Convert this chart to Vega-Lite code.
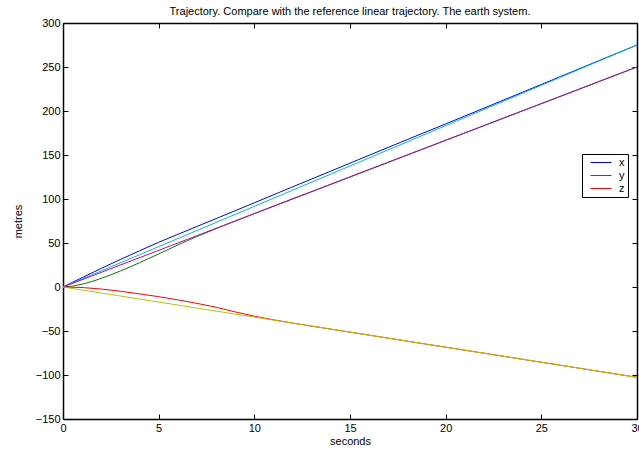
{
  "$schema": "https://vega.github.io/schema/vega-lite/v6.json",
  "width": 574,
  "height": 396,
  "autosize": {"type": "none"},
  "padding": {"left": 63, "top": 23, "right": 2, "bottom": 31},
  "title": {"text": "Trajectory. Compare with the reference linear trajectory. The earth system.", "fontSize": 11, "font": "Liberation Sans", "fontWeight": "normal", "offset": 0, "color": "black"},
  "datasets": {
    "traj": [
      {"t": 0, "v": 0, "s": "x", "kind": "main"},
      {"t": 1, "v": 10.67, "s": "x", "kind": "main"},
      {"t": 2, "v": 21.13, "s": "x", "kind": "main"},
      {"t": 3, "v": 31.3, "s": "x", "kind": "main"},
      {"t": 4, "v": 41.17, "s": "x", "kind": "main"},
      {"t": 5, "v": 50.83, "s": "x", "kind": "main"},
      {"t": 6, "v": 59.8, "s": "x", "kind": "main"},
      {"t": 7, "v": 68.77, "s": "x", "kind": "main"},
      {"t": 8, "v": 77.73, "s": "x", "kind": "main"},
      {"t": 9, "v": 86.7, "s": "x", "kind": "main"},
      {"t": 10, "v": 95.67, "s": "x", "kind": "main"},
      {"t": 12, "v": 113.8, "s": "x", "kind": "main"},
      {"t": 14, "v": 131.7, "s": "x", "kind": "main"},
      {"t": 16, "v": 149.7, "s": "x", "kind": "main"},
      {"t": 18, "v": 167.6, "s": "x", "kind": "main"},
      {"t": 20, "v": 185.3, "s": "x", "kind": "main"},
      {"t": 22, "v": 203.2, "s": "x", "kind": "main"},
      {"t": 24, "v": 221.2, "s": "x", "kind": "main"},
      {"t": 26, "v": 239.1, "s": "x", "kind": "main"},
      {"t": 28, "v": 257.1, "s": "x", "kind": "main"},
      {"t": 30, "v": 275, "s": "x", "kind": "main"},

      {"t": 0, "v": 0, "s": "y", "kind": "main"},
      {"t": 0.5, "v": 1.0, "s": "y", "kind": "main"},
      {"t": 1, "v": 3.2, "s": "y", "kind": "main"},
      {"t": 1.5, "v": 6.2, "s": "y", "kind": "main"},
      {"t": 2, "v": 9.8, "s": "y", "kind": "main"},
      {"t": 2.5, "v": 13.8, "s": "y", "kind": "main"},
      {"t": 3, "v": 18.2, "s": "y", "kind": "main"},
      {"t": 3.5, "v": 22.8, "s": "y", "kind": "main"},
      {"t": 4, "v": 27.6, "s": "y", "kind": "main"},
      {"t": 4.5, "v": 32.6, "s": "y", "kind": "main"},
      {"t": 5, "v": 37.6, "s": "y", "kind": "main"},
      {"t": 5.5, "v": 42.6, "s": "y", "kind": "main"},
      {"t": 6, "v": 47.8, "s": "y", "kind": "main"},
      {"t": 6.5, "v": 52.6, "s": "y", "kind": "main"},
      {"t": 7, "v": 57.4, "s": "y", "kind": "main"},
      {"t": 8, "v": 66.3, "s": "y", "kind": "main"},
      {"t": 9, "v": 75.0, "s": "y", "kind": "main"},
      {"t": 10, "v": 83.5, "s": "y", "kind": "main"},
      {"t": 12, "v": 100.2, "s": "y", "kind": "main"},
      {"t": 14, "v": 116.8, "s": "y", "kind": "main"},
      {"t": 16, "v": 133.5, "s": "y", "kind": "main"},
      {"t": 18, "v": 150.1, "s": "y", "kind": "main"},
      {"t": 20, "v": 166.8, "s": "y", "kind": "main"},
      {"t": 22, "v": 183.4, "s": "y", "kind": "main"},
      {"t": 24, "v": 200.1, "s": "y", "kind": "main"},
      {"t": 26, "v": 216.7, "s": "y", "kind": "main"},
      {"t": 28, "v": 233.4, "s": "y", "kind": "main"},
      {"t": 30, "v": 250, "s": "y", "kind": "main"},

      {"t": 0, "v": 0, "s": "z", "kind": "main"},
      {"t": 1, "v": -0.6, "s": "z", "kind": "main"},
      {"t": 2, "v": -2.3, "s": "z", "kind": "main"},
      {"t": 3, "v": -4.8, "s": "z", "kind": "main"},
      {"t": 4, "v": -7.8, "s": "z", "kind": "main"},
      {"t": 5, "v": -11.0, "s": "z", "kind": "main"},
      {"t": 6, "v": -14.6, "s": "z", "kind": "main"},
      {"t": 7, "v": -18.6, "s": "z", "kind": "main"},
      {"t": 8, "v": -23.0, "s": "z", "kind": "main"},
      {"t": 9, "v": -28.3, "s": "z", "kind": "main"},
      {"t": 10, "v": -33.2, "s": "z", "kind": "main"},
      {"t": 11, "v": -37.3, "s": "z", "kind": "main"},
      {"t": 12, "v": -41.0, "s": "z", "kind": "main"},
      {"t": 14, "v": -47.9, "s": "z", "kind": "main"},
      {"t": 16, "v": -54.7, "s": "z", "kind": "main"},
      {"t": 18, "v": -61.6, "s": "z", "kind": "main"},
      {"t": 20, "v": -68.4, "s": "z", "kind": "main"},
      {"t": 22, "v": -75.2, "s": "z", "kind": "main"},
      {"t": 24, "v": -82.1, "s": "z", "kind": "main"},
      {"t": 26, "v": -88.9, "s": "z", "kind": "main"},
      {"t": 28, "v": -95.8, "s": "z", "kind": "main"},
      {"t": 30, "v": -102.6, "s": "z", "kind": "main"},

      {"t": 0, "v": 0, "s": "xr", "kind": "ref"},
      {"t": 30, "v": 275, "s": "xr", "kind": "ref"},
      {"t": 0, "v": 0, "s": "yr", "kind": "ref"},
      {"t": 30, "v": 250, "s": "yr", "kind": "ref"},
      {"t": 0, "v": 0, "s": "zr", "kind": "ref"},
      {"t": 30, "v": -102.6, "s": "zr", "kind": "ref"}
    ]
  },
  "data": {"name": "traj"},
  "layer": [
    {
      "transform": [{"filter": "datum.kind === 'main'"}],
      "mark": {"type": "line", "strokeWidth": 1, "clip": true},
      "encoding": {
        "x": {"field": "t", "type": "quantitative", "scale": {"domain": [0, 30], "nice": false, "zero": false},
              "axis": {"orient": "bottom", "title": "seconds", "values": [0, 5, 10, 15, 20, 25, 30], "titlePadding": 2}},
        "y": {"field": "v", "type": "quantitative", "scale": {"domain": [-150, 300], "nice": false, "zero": false},
              "axis": {"orient": "left", "title": "metres", "values": [-150, -100, -50, 0, 50, 100, 150, 200, 250, 300], "titlePadding": 12}},
        "color": {"field": "s", "type": "nominal",
                  "scale": {"domain": ["x", "y", "z", "xr", "yr", "zr"], "range": ["#0000ff", "#008000", "#ff0000", "#00bfbf", "#bf00bf", "#bfbf00"]},
                  "legend": {"values": ["x", "y", "z"], "title": null}},
        "order": {"field": "t", "type": "quantitative"}
      }
    },
    {
      "transform": [{"filter": "datum.kind === 'ref'"}],
      "mark": {"type": "line", "strokeWidth": 1, "clip": true},
      "encoding": {
        "x": {"field": "t", "type": "quantitative", "scale": {"domain": [0, 30], "nice": false, "zero": false},
              "axis": {"orient": "top", "title": null, "labels": false, "values": [0, 5, 10, 15, 20, 25, 30]}},
        "y": {"field": "v", "type": "quantitative", "scale": {"domain": [-150, 300], "nice": false, "zero": false},
              "axis": {"orient": "right", "title": null, "labels": false, "values": [-150, -100, -50, 0, 50, 100, 150, 200, 250, 300]}},
        "color": {"field": "s", "type": "nominal",
                  "scale": {"domain": ["x", "y", "z", "xr", "yr", "zr"], "range": ["#0000ff", "#008000", "#ff0000", "#00bfbf", "#bf00bf", "#bfbf00"]},
                  "legend": {"values": ["x", "y", "z"], "title": null}},
        "order": {"field": "t", "type": "quantitative"}
      }
    }
  ],
  "resolve": {"axis": {"x": "independent", "y": "independent"}},
  "config": {
    "background": "white",
    "view": {"stroke": null},
    "legend": {
      "orient": "none", "legendX": 519, "legendY": 131,
      "symbolType": "M-2.1,0H2.1", "symbolSize": 100, "symbolStrokeWidth": 1, "symbolOffset": 10.5, "strokeColor": "black", "fillColor": "white",
      "padding": 3, "labelFontSize": 11, "labelFont": "Liberation Sans", "labelColor": "black", "rowPadding": 1, "labelOffset": 12.5
    },
    "axis": {
      "grid": false,
      "domainColor": "black",
      "domainWidth": 1.5,
      "tickColor": "black",
      "tickSize": -5,
      "tickWidth": 1,
      "labelFont": "Liberation Sans",
      "labelFontSize": 11,
      "labelColor": "black",
      "labelPadding": 8,
      "labelFlush": false,
      "labelOverlap": false,
      "titleFont": "Liberation Sans",
      "titleFontSize": 11,
      "titleFontWeight": "normal",
      "titleColor": "black"
    }
  }
}
